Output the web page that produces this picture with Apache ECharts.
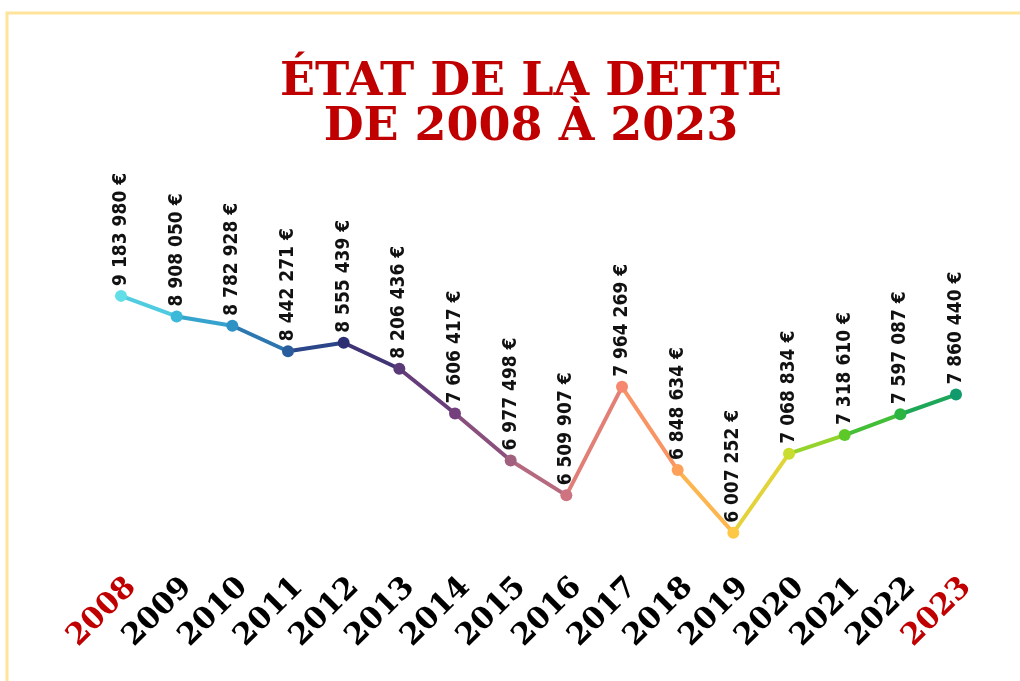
<!DOCTYPE html>
<html>
<head>
<meta charset="utf-8">
<script src="https://cdn.jsdelivr.net/npm/echarts@6/dist/echarts.min.js"></script>
<style>html,body{margin:0;padding:0;background:#fff}#c{width:1020px;height:681px}</style>
</head>
<body>
<div id="c"></div>
<script>
const categories = ['2008','2009','2010','2011','2012','2013','2014','2015','2016','2017','2018','2019','2020','2021','2022','2023'];
const dette = [9183980, 8908050, 8782928, 8442271, 8555439, 8206436, 7606417, 6977498, 6509907, 7964269, 6848634, 6007252, 7068834, 7318610, 7597087, 7860440];
const pointColors = ['#62dfe6','#3cb8d8','#2f92c4','#2a5d9e','#2c2f72','#5a3a78','#743f7c','#a0607e','#cd7480','#f5886e','#fca05a','#fdc845','#c9dd2e','#5dc928','#2cb443','#119a6c'];
const highlightYears = ['2008','2023'];
const titleLines = ['ÉTAT DE LA DETTE', 'DE 2008 À 2023'];

function fmt(v){
  return String(v).replace(/\B(?=(\d{3})+(?!\d))/g, ' ') + ' €';
}

const chart = echarts.init(document.getElementById('c'));
chart.setOption({
  backgroundColor: '#fff',
  animation: false,
  graphic: [{
    type: 'polyline',
    shape: { points: [[7, 700], [7, 13], [1030, 13]] },
    style: { stroke: '#fde49a', lineWidth: 3, fill: null },
    z: 0
  }],
  title: {
    text: titleLines.join('\n'),
    left: 526,
    top: 56,
    textAlign: 'center',
    textStyle: {
      fontFamily: 'DejaVu Serif',
      fontWeight: 'bold',
      fontSize: 46,
      lineHeight: 45,
      color: '#c00000'
    }
  },
  grid: { left: 121, right: 64, top: 235, bottom: 73, containLabel: false, outerBoundsMode: 'none' },
  visualMap: {
    show: false,
    type: 'continuous',
    dimension: 0,
    min: 0,
    max: categories.length - 1,
    inRange: { color: pointColors }
  },
  xAxis: {
    type: 'category',
    data: categories,
    boundaryGap: false,
    axisLine: { show: false },
    axisTick: { show: false },
    splitLine: { show: false },
    axisLabel: {
      rotate: 45,
      interval: 0,
      margin: -36,
      verticalAlign: 'top',
      fontFamily: 'DejaVu Serif',
      fontWeight: 'bold',
      fontSize: 30,
      color: function (v) { return highlightYears.indexOf(v) >= 0 ? '#c00000' : '#000'; }
    }
  },
  yAxis: {
    type: 'value',
    min: 5000000,
    max: 10000000,
    show: false,
    splitLine: { show: false }
  },
  series: [{
    type: 'line',
    data: dette,
    symbol: 'circle',
    symbolSize: 12,
    lineStyle: { width: 4 },
    label: {
      show: true,
      position: 'top',
      rotate: 90,
      align: 'left',
      verticalAlign: 'middle',
      distance: 4,
      fontFamily: 'Liberation Sans Narrow, DejaVu Sans Condensed, sans-serif',
      fontWeight: 'bold',
      fontSize: 19,
      color: '#111',
      formatter: function (p) { return fmt(p.value); }
    }
  }]
});
</script>
</body>
</html>
